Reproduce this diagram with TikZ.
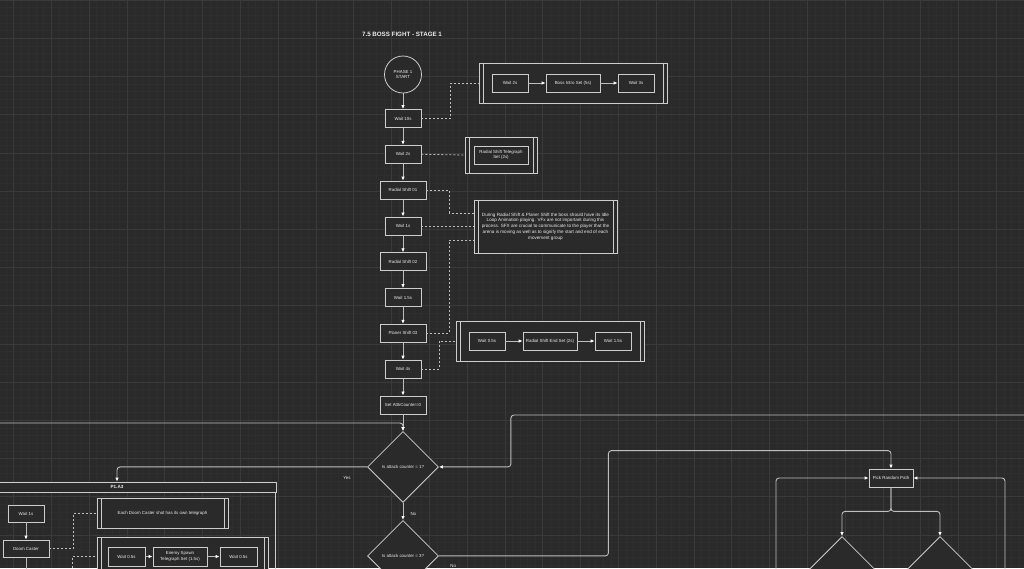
\documentclass[tikz,border=0pt]{standalone}
\usepackage{fontspec}
\setmainfont{Liberation Sans}
\usepackage{tikz}
\usetikzlibrary{positioning, shapes.geometric, arrows.meta}
\definecolor{bgcol}{RGB}{42,42,42}
\definecolor{gridfine}{RGB}{46,46,46}
\definecolor{gridmajor}{RGB}{58,58,58}
\definecolor{edgecol}{RGB}{205,205,205}
\definecolor{linecol}{RGB}{190,190,190}
\definecolor{txtcol}{RGB}{235,235,235}

\begin{document}
\begin{tikzpicture}[x=1pt,y=-1pt,node distance=35.8pt,on grid,
    font=\fontsize{4.4}{5.6}\selectfont, text=txtcol,
    proc/.style={draw=edgecol,fill=bgcol,line width=0.8pt,minimum width=36pt,minimum height=18pt,inner sep=1pt,align=center},
    wproc/.style={proc,minimum width=46pt},
    group/.style={draw=edgecol,fill=bgcol,line width=0.8pt,inner sep=0pt,align=center,
      path picture={\draw[edgecol,line width=0.8pt]
        ([xshift=4pt]path picture bounding box.north west) -- ([xshift=4pt]path picture bounding box.south west)
        ([xshift=-4pt]path picture bounding box.north east) -- ([xshift=-4pt]path picture bounding box.south east);}},
    decide/.style={diamond,aspect=1,draw=edgecol,fill=bgcol,line width=0.8pt,minimum width=71pt,minimum height=71pt,inner sep=0pt},
    flow/.style={draw=linecol,line width=0.9pt,rounded corners=3pt,-{Latex[length=4pt,width=3.5pt,color=white]}},
    link/.style={draw=linecol,line width=0.8pt,dash pattern=on 2pt off 2pt},
    lbl/.style={text=txtcol},
  ]
    % background and grid
    \useasboundingbox (0,0) rectangle (1024,568);
    \clip (0,0) rectangle (1024,568);
    \fill[bgcol] (0,0) rectangle (1024,568);
    \foreach \i in {-2,...,135} \draw[gridfine,line width=0.5pt] ({13.5+7.56*\i},0) -- ++(0,568);
    \foreach \i in {0,...,75} \draw[gridfine,line width=0.5pt] (0,{7.64*\i}) -- ++(1024,0);
    \foreach \i in {0,...,27} \draw[gridmajor,line width=0.6pt] ({13.5+37.8*\i},0) -- ++(0,568);
    \foreach \i in {0,...,15} \draw[gridmajor,line width=0.6pt] (0,{38.2*\i}) -- ++(1024,0);

    \node[font=\fontsize{6.2}{7}\selectfont\bfseries] (title) at (402,34) {7.5 BOSS FIGHT - STAGE 1};

    % main column
    \node[circle,draw=edgecol,fill=bgcol,line width=0.8pt,minimum size=37pt,inner sep=0pt,align=center] (start) at (403,74.5) {PHASE 1\\START};
    \node[proc]  (w10)  [below=44pt of start] {Wait 10s};
    \node[proc]  (w2)   [below=of w10] {Wait 2s};
    \node[wproc] (rs1)  [below=of w2]  {Radial Shift 01};
    \node[proc]  (w1)   [below=of rs1] {Wait 1s};
    \node[wproc] (rs2)  [below=of w1]  {Radial Shift 02};
    \node[proc]  (w15)  [below=of rs2] {Wait 1.5s};
    \node[wproc] (ps3)  [below=of w15] {Planer Shift 03};
    \node[proc]  (w4)   [below=of ps3] {Wait 4s};
    \node[wproc] (setc) [below=of w4]  {Set AttkCounter=0};
    \node[decide] (q1) [below=62pt of setc] {Is attack counter = 1?};
    \node[decide] (q2) [below=89pt of q1] {Is attack counter = 3?};

    \path[flow] (start) edge (w10) (w10) edge (w2) (w2) edge (rs1) (rs1) edge (w1)
      (w1) edge (rs2) (rs2) edge (w15) (w15) edge (ps3) (ps3) edge (w4) (w4) edge (setc)
      (setc) edge (q1) (q1) edge (q2);

    % side groups
    \node[group,minimum width=188pt,minimum height=40pt] (intro) at (573,83) {};
    \node[proc,minimum width=54pt] (iboss) at (intro) {Boss Intro Set (5s)};
    \node[proc] (iw2) [left=63pt of iboss]  {Wait 2s};
    \node[proc] (iw3) [right=63pt of iboss] {Wait 3s};
    \draw[flow] (iw2) -- (iboss);
    \draw[flow] (iboss) -- (iw3);

    \node[group,minimum width=72pt,minimum height=36pt] (tele) at (501,155) {};
    \node[proc,minimum width=54pt] (itele) at (tele) {Radial Shift Telegraph\\Set (2s)};

    \node[group,minimum width=143pt,minimum height=53pt,font=\fontsize{4.6}{5.7}\selectfont] (note) at (545.5,226.5)
      {During Radial Shift \& Planer Shift the boss should have its Idle\\Loop Animation playing. VFx are not important during this\\process. SFX are crucial to communicate to the player that the\\arena is moving as well as to signify the start and end of each\\movement group};

    \node[group,minimum width=188pt,minimum height=40pt] (endset) at (550,341) {};
    \node[proc,minimum width=54pt] (eend) at (endset) {Radial Shift End Set (2s)};
    \node[proc] (ew05) [left=63pt of eend]  {Wait 0.5s};
    \node[proc] (ew15) [right=63pt of eend] {Wait 1.5s};
    \draw[flow] (ew05) -- (eend);
    \draw[flow] (eend) -- (ew15);

    % dashed links
    \draw[link] (w10.east) -- ++(29,0) |- (intro.west);
    \draw[link] (w2.east) -- (tele.west);
    \draw[link] (rs1.east) -- ++(23,0) |- ([yshift=13.5pt]note.west);
    \draw[link] (w1.east) -- (w1.east -| note.west);
    \draw[link] (ps3.east) -- ++(23,0) |- ([yshift=-13.5pt]note.west);
    \draw[link] (w4.east) -- ++(18,0) |- (endset.west);

    % attack loop
    \coordinate (inL) at (-5,423);
    \coordinate (inR) at (1030,415);
    \draw[flow] (inL) -| (q1.north);
    \draw[flow] (inR) -| ([xshift=72pt]q1.east) -- (q1.east);

    % P1.A3 group
    \node[draw=edgecol,fill=bgcol,line width=0.8pt,minimum width=318pt,minimum height=10pt,inner sep=0pt,font=\fontsize{4.6}{5}\selectfont\bfseries] (p1head) at (117,487) {P1.A3};
    \draw[edgecol,line width=0.8pt] (p1head.south west) rectangle ++(318,100);
    \draw[flow] (q1.west) -| (p1head.north);
    \node[lbl] (yes1) [below left=6pt and 13pt of q1.west] {Yes};
    \node[lbl] (no1) [below right=6.5pt and 4pt of q1.south] {No};
    \node[lbl] (no2) [below right=5.5pt and 8pt of q2.east] {No};

    \node[proc,minimum height=17pt] (dw1) at (26,513.5) {Wait 1s};
    \node[wproc,minimum height=17pt] (doom) [below=35pt of dw1] {Doom Caster};
    \coordinate (doomout) at (26,600);
    \draw[flow] (dw1) -- (doom);
    \draw[flow] (doom) -- (doomout);

    \node[group,minimum width=131pt,minimum height=30pt] (dnote) at (162.5,513) {Each Doom Caster shot has its own telegraph};
    \node[group,minimum width=171pt,minimum height=43pt] (spawn) at (182.5,558.5) {};
    \node[proc,minimum width=54pt,minimum height=19pt] (stele) at (180,556.5) {Enemy Spawn\\Telegraph Set (1.5s)};
    \node[proc,minimum width=37pt,minimum height=19pt] (sw1) [left=53.5pt of stele] {Wait 0.5s};
    \node[proc,minimum width=37pt,minimum height=19pt] (sw2) [right=58.5pt of stele] {Wait 0.5s};
    \draw[flow] (sw1) -- (stele);
    \draw[flow] (stele) -- (sw2);
    \coordinate (spawnin) at (72,600);
    \draw[link] (doom.east) -- ++(24,0) |- (dnote.west);
    \draw[link] (spawnin) |- (sw1.west -| spawn.west);

    % random path
    \node[proc,minimum width=44pt] (pick) at (891,478) {Pick Random Path};
    \draw[flow] (q2.east) -- ++(169.5,0) |- ([yshift=18pt]pick.north) -- (pick.north);
    \coordinate (pl) at (776,600);
    \coordinate (pr) at (1005,600);
    \draw[flow] (pl) |- (pick.west);
    \draw[flow] (pr) |- (pick.east);
    \node[decide] (qa) at (842,572) {};
    \node[decide] (qb) at (940,572) {};
    \draw[flow] (pick.south) -- ++(0,24) -| (qa.north);
    \draw[flow] (pick.south) -- ++(0,24) -| (qb.north);
\end{tikzpicture}
\end{document}
